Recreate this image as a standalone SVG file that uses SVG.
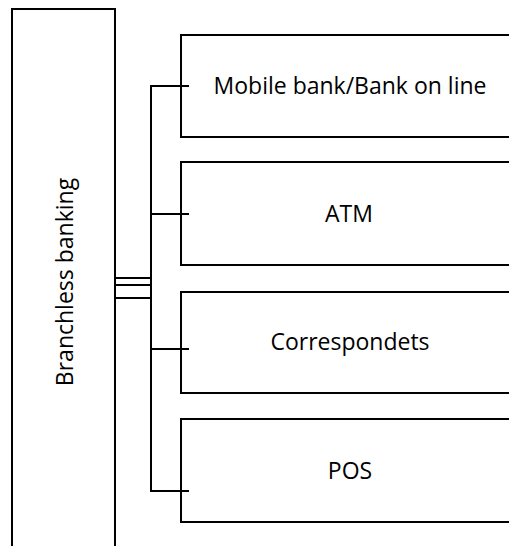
<svg xmlns="http://www.w3.org/2000/svg" width="509" height="546" viewBox="0 0 509 546">
<style>
.box{fill:#fff;stroke:#000;stroke-width:2}
.ln{fill:none;stroke:#000;stroke-width:2}
.t{font-family:"Open Sans","Liberation Sans",sans-serif;font-size:23px;fill:#000;text-anchor:middle}
</style>
<rect width="509" height="546" fill="#fff"/>
<g id="branchless">
<path class="box" d="M12,547 V9 H115 V547"/>
<text class="t" transform="translate(73,282) rotate(-90)">Branchless banking</text>
</g>
<g id="mobile">
<rect class="box" x="181" y="35" width="340" height="102"/>
<text class="t" x="350" y="94">Mobile bank/Bank on line</text>
</g>
<g id="atm">
<rect class="box" x="181" y="162" width="340" height="103"/>
<text class="t" x="349" y="222">ATM</text>
</g>
<g id="correspondets">
<rect class="box" x="181" y="292" width="340" height="101"/>
<text class="t" x="350" y="350">Correspondets</text>
</g>
<g id="pos">
<rect class="box" x="181" y="419" width="340" height="103"/>
<text class="t" x="350" y="479">POS</text>
</g>
<g id="connectors">
<path class="ln" d="M189,86 H151 V491 H189"/>
<path class="ln" d="M151,214 H189 M151,349 H189"/>
<path class="ln" d="M115,278 H151 M115,285 H151 M115,298 H151"/>
</g>
</svg>
